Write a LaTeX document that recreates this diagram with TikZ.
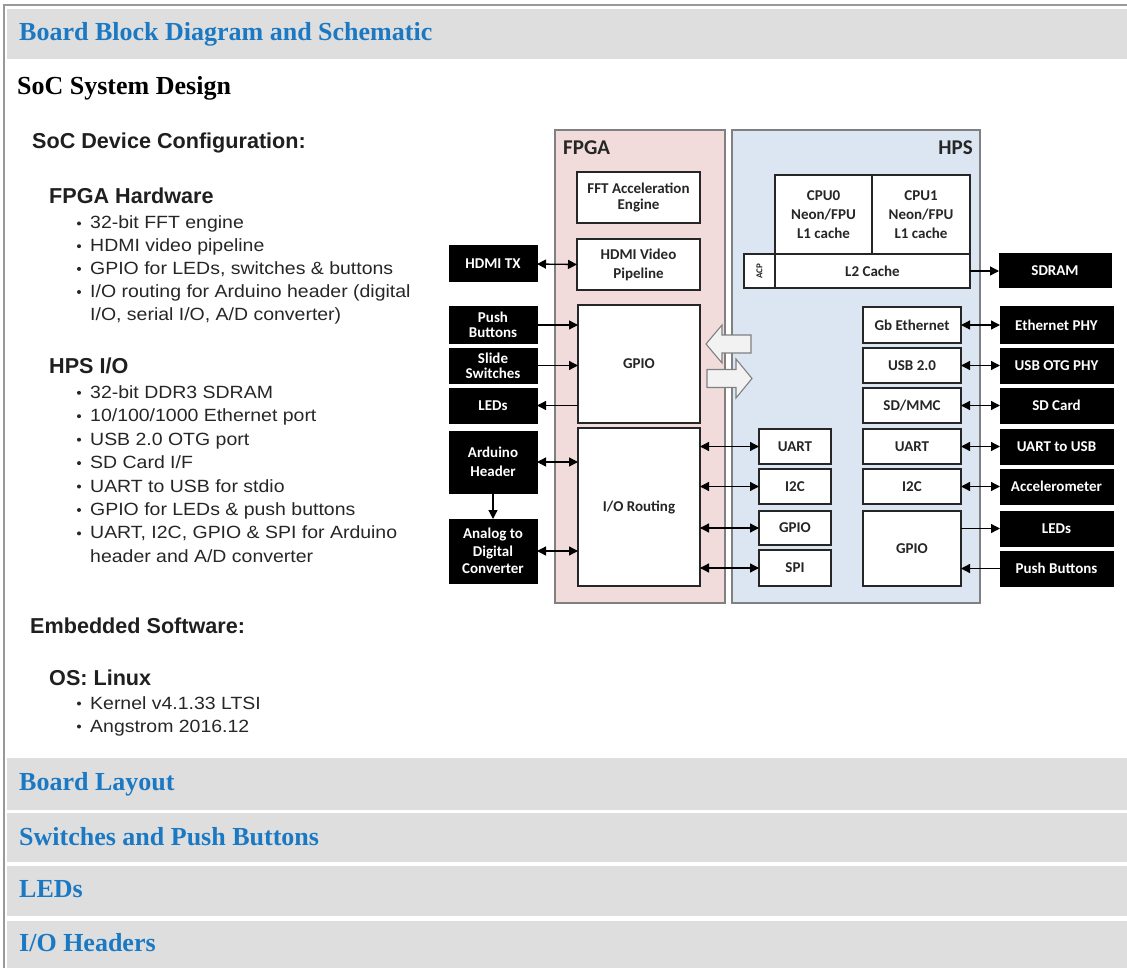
\documentclass[tikz,border=0pt]{standalone}
\usepackage{fontspec}
\usetikzlibrary{arrows.meta,calc}
\newfontfamily\lsans[FakeStretch=1.1]{Liberation Sans}
\newfontfamily\lsanshead{Liberation Sans}
\newfontfamily\carl{Carlito}
\newfontfamily\lserif{Liberation Serif}
\definecolor{bandgray}{HTML}{DEDEDE}
\definecolor{linkblue}{HTML}{1B79C4}
\definecolor{fpgafill}{HTML}{F2DCDB}
\definecolor{hpsfill}{HTML}{DCE6F2}
\definecolor{framegray}{HTML}{808080}
\definecolor{boxline}{HTML}{262626}
\definecolor{bigarrow}{HTML}{F2F2F2}
\tikzset{
  x=1pt, y=-1pt,
  container/.style={draw=framegray, line width=1.6pt, inner sep=0pt, outer sep=0pt},
  wbox/.style={draw=boxline, fill=white, line width=1.3pt, inner sep=0pt, outer sep=0pt,
    align=center, font=\carl\bfseries\fontsize{15}{17}\selectfont, text=black!85},
  bbox/.style={draw=black, fill=black, line width=1pt, inner sep=0pt, outer sep=0pt,
    align=center, font=\carl\bfseries\fontsize{15}{16}\selectfont, text=white},
  conn/.style={line width=1.3pt, -{Triangle[length=9pt,width=9pt]}},
  dconn/.style={line width=1.3pt, {Triangle[length=9pt,width=9pt]}-{Triangle[length=9pt,width=9pt]}},
  blockarrow/.style={draw=framegray, fill=bigarrow, line width=1.1pt},
  sectitle/.style={anchor=base west, inner sep=0pt, text=linkblue,
    font=\lserif\bfseries\fontsize{26}{30}\selectfont},
  headA/.style={anchor=base west, inner sep=0pt, text=black!88, font=\lsanshead\bfseries\fontsize{21.6}{24}\selectfont},
  item/.style={anchor=base west, inner sep=0pt, text=black!85, font=\lsans\fontsize{17.7}{22}\selectfont},
  dot/.style={circle, fill=black!85, inner sep=0pt, minimum size=4pt},
}
\begin{document}
\begin{tikzpicture}
\useasboundingbox (0,0) rectangle (1127,968);

% page frame and section bands
\fill[bandgray] (7,9) rectangle (1127,59);
\fill[bandgray] (7,758) rectangle (1127,810);
\fill[bandgray] (7,813) rectangle (1127,862);
\fill[bandgray] (7,866) rectangle (1127,916);
\fill[bandgray] (7,921) rectangle (1127,968);
\draw[black!40, line width=2pt] (4,968) -- (4,5) -- (1127,5);

\node[sectitle] (t1) at (19,40.7) {Board Block Diagram and Schematic};
\node[sectitle, text=black] (t2) at (17,94.5) {SoC System Design};
\node[sectitle] (t3) at (19,790.7) {Board Layout};
\node[sectitle] (t4) at (19,845) {Switches and Push Buttons};
\node[sectitle] (t5) at (19,897.7) {LEDs};
\node[sectitle] (t6) at (19,951.7) {I/O Headers};

% left column text
\node[headA] (h1) at (32,149) {SoC Device Configuration:};
\node[headA] (h2) at (49,204) {FPGA Hardware};
\node[item] (f1) at (90,229) {32-bit FFT engine};
\node[item] (f2) at (90,251.7) {HDMI video pipeline};
\node[item] (f3) at (90,274.4) {GPIO for LEDs, switches \& buttons};
\node[item] (f4) at (90,297.5) {I/O routing for Arduino header (digital};
\node[item] (f4b) at (90,320.5) {I/O, serial I/O, A/D converter)};
\foreach \yy in {229,251.7,274.4,297.5} \node[dot] at (79,\yy-5.5) {};

\node[headA] (h3) at (49,373) {HPS I/O};
\node[item] (p1) at (90,398.3) {32-bit DDR3 SDRAM};
\node[item] (p2) at (90,421.7) {10/100/1000 Ethernet port};
\node[item] (p3) at (90,445.2) {USB 2.0 OTG port};
\node[item] (p4) at (90,468.6) {SD Card I/F};
\node[item] (p5) at (90,492) {UART to USB for stdio};
\node[item] (p6) at (90,515.5) {GPIO for LEDs \& push buttons};
\node[item] (p7) at (90,538.9) {UART, I2C, GPIO \& SPI for Arduino};
\node[item] (p7b) at (90,562.5) {header and A/D converter};
\foreach \yy in {398.3,421.7,445.2,468.6,492,515.5,538.9} \node[dot] at (79,\yy-5.5) {};

\node[headA] (h4) at (30,633) {Embedded Software:};
\node[headA] (h5) at (49,685) {OS: Linux};
\node[item] (k1) at (90,709) {Kernel v4.1.33 LTSI};
\node[item] (k2) at (90,732) {Angstrom 2016.12};
\foreach \yy in {709,732} \node[dot] at (79,\yy-5.5) {};

% containers
\node[container, fill=fpgafill, minimum width=170pt, minimum height=473pt] (fpga) at (640,366.5) {};
\node[container, fill=hpsfill, minimum width=248pt, minimum height=473pt] (hps) at (856,366.5) {};
\node[anchor=base west, inner sep=0pt, font=\carl\bfseries\fontsize{21}{24}\selectfont, text=black!85] (fpgalbl) at (563,155) {FPGA};
\node[anchor=base east, inner sep=0pt, font=\carl\bfseries\fontsize{21}{24}\selectfont, text=black!85] (hpslbl) at (973,155) {HPS};

% FPGA blocks
\node[wbox, minimum width=123pt, minimum height=51pt, font=\carl\bfseries\fontsize{15}{15.5}\selectfont] (fft) at (638.5,197.5) {FFT Acceleration\\Engine};
\node[wbox, minimum width=123pt, minimum height=51pt, font=\carl\bfseries\fontsize{15}{19}\selectfont] (hdmi) at (638.5,264.5) {HDMI Video\\Pipeline};
\node[wbox, minimum width=122pt, minimum height=118pt] (gpio) at (639,364) {GPIO};
\node[wbox, minimum width=122pt, minimum height=158pt] (ior) at (639,507) {I/O Routing};

% FPGA-side peripherals
\node[bbox, minimum width=88pt, minimum height=36pt] (hdmitx) at (493,264) {HDMI TX};
\node[bbox, minimum width=88pt, minimum height=36pt, font=\carl\bfseries\fontsize{15}{15}\selectfont] (pbL) at (493,325) {Push\\Buttons};
\node[bbox, minimum width=88pt, minimum height=35pt, font=\carl\bfseries\fontsize{15}{15}\selectfont] (sw) at (493,365.5) {Slide\\Switches};
\node[bbox, minimum width=88pt, minimum height=35pt] (ledL) at (493,405.5) {LEDs};
\node[bbox, minimum width=88pt, minimum height=62pt, font=\carl\bfseries\fontsize{15}{19}\selectfont] (ard) at (493,462) {Arduino\\Header};
\node[bbox, minimum width=88pt, minimum height=64pt, font=\carl\bfseries\fontsize{15}{17.5}\selectfont] (adc) at (493,551) {Analog to\\Digital\\Converter};

% HPS blocks
\node[wbox, minimum width=97pt, minimum height=79pt, font=\carl\bfseries\fontsize{15}{19}\selectfont] (cpu0) at (823.5,214.5) {CPU0\\Neon/FPU\\L1 cache};
\node[wbox, minimum width=98pt, minimum height=79pt, font=\carl\bfseries\fontsize{15}{19}\selectfont] (cpu1) at (921,214.5) {CPU1\\Neon/FPU\\L1 cache};
\node[wbox, minimum width=31pt, minimum height=34pt] (acp) at (759.5,271) {};
\node[rotate=90, inner sep=0pt, font=\carl\bfseries\fontsize{9}{9}\selectfont, text=black!85] (acplbl) at (acp.center) {ACP};
\node[wbox, minimum width=195pt, minimum height=34pt] (l2) at (872.5,271) {L2 Cache};

\node[wbox, minimum width=98pt, minimum height=36pt] (eth) at (912,325) {Gb Ethernet};
\node[wbox, minimum width=98pt, minimum height=35pt] (usb) at (912,365.5) {USB 2.0};
\node[wbox, minimum width=98pt, minimum height=35pt] (sd) at (912,405.5) {SD/MMC};
\node[wbox, minimum width=98pt, minimum height=35pt] (uartH) at (912,446.5) {UART};
\node[wbox, minimum width=98pt, minimum height=35pt] (i2cH) at (912,486.5) {I2C};
\node[wbox, minimum width=98pt, minimum height=75pt] (gpioH) at (912,548.5) {GPIO};

\node[wbox, minimum width=72pt, minimum height=35pt] (uartM) at (795,446.5) {UART};
\node[wbox, minimum width=72pt, minimum height=35pt] (i2cM) at (795,486.5) {I2C};
\node[wbox, minimum width=72pt, minimum height=34pt] (gpioM) at (795,528) {GPIO};
\node[wbox, minimum width=72pt, minimum height=36pt] (spiM) at (795,568) {SPI};

% HPS-side peripherals
\node[bbox, minimum width=112pt, minimum height=34pt] (sdram) at (1055,271) {SDRAM};
\node[bbox, minimum width=113pt, minimum height=36pt] (ephy) at (1056.5,325) {Ethernet PHY};
\node[bbox, minimum width=113pt, minimum height=35pt] (uphy) at (1056.5,365.5) {USB OTG PHY};
\node[bbox, minimum width=113pt, minimum height=35pt] (sdc) at (1056.5,405.5) {SD Card};
\node[bbox, minimum width=113pt, minimum height=35pt] (u2u) at (1056.5,446.5) {UART to USB};
\node[bbox, minimum width=113pt, minimum height=35pt] (acc) at (1056.5,486.5) {Accelerometer};
\node[bbox, minimum width=113pt, minimum height=35pt] (ledR) at (1056.5,528.5) {LEDs};
\node[bbox, minimum width=113pt, minimum height=35pt] (pbR) at (1056.5,568.5) {Push Buttons};

% bridges between FPGA and HPS
\draw[blockarrow] (706,344) -- (722,325) -- (722,335) -- (751,335) -- (751,353) -- (722,353) -- (722,363) -- cycle;
\draw[blockarrow] (752,378.5) -- (736,359) -- (736,369.5) -- (707,369.5) -- (707,387.5) -- (736,387.5) -- (736,398) -- cycle;

% FPGA connections
\draw[dconn] (hdmitx.east) -- (hdmi.west);
\draw[conn] (pbL.east) -- (pbL.east -| gpio.west);
\draw[conn] (sw.east) -- (sw.east -| gpio.west);
\draw[conn] (ledL.east -| gpio.west) -- (ledL.east);
\draw[dconn] (ard.east) -- (ard.east -| ior.west);
\draw[dconn] (adc.east) -- (adc.east -| ior.west);
\draw[conn] (ard.south) -- (adc.north);

% I/O routing to HPS peripherals
\draw[dconn] (uartM.west -| ior.east) -- (uartM.west);
\draw[dconn] (i2cM.west -| ior.east) -- (i2cM.west);
\draw[dconn] (gpioM.west -| ior.east) -- (gpioM.west);
\draw[dconn] (spiM.west -| ior.east) -- (spiM.west);

% HPS connections
\draw[conn] (l2.east) -- (sdram.west);
\draw[dconn] (eth.east) -- (ephy.west);
\draw[dconn] (usb.east) -- (uphy.west);
\draw[dconn] (sd.east) -- (sdc.west);
\draw[dconn] (uartH.east) -- (u2u.west);
\draw[dconn] (i2cH.east) -- (acc.west);
\draw[conn] (ledR.west -| gpioH.east) -- (ledR.west);
\draw[conn] (pbR.west) -- (pbR.west -| gpioH.east);
\end{tikzpicture}
\end{document}
